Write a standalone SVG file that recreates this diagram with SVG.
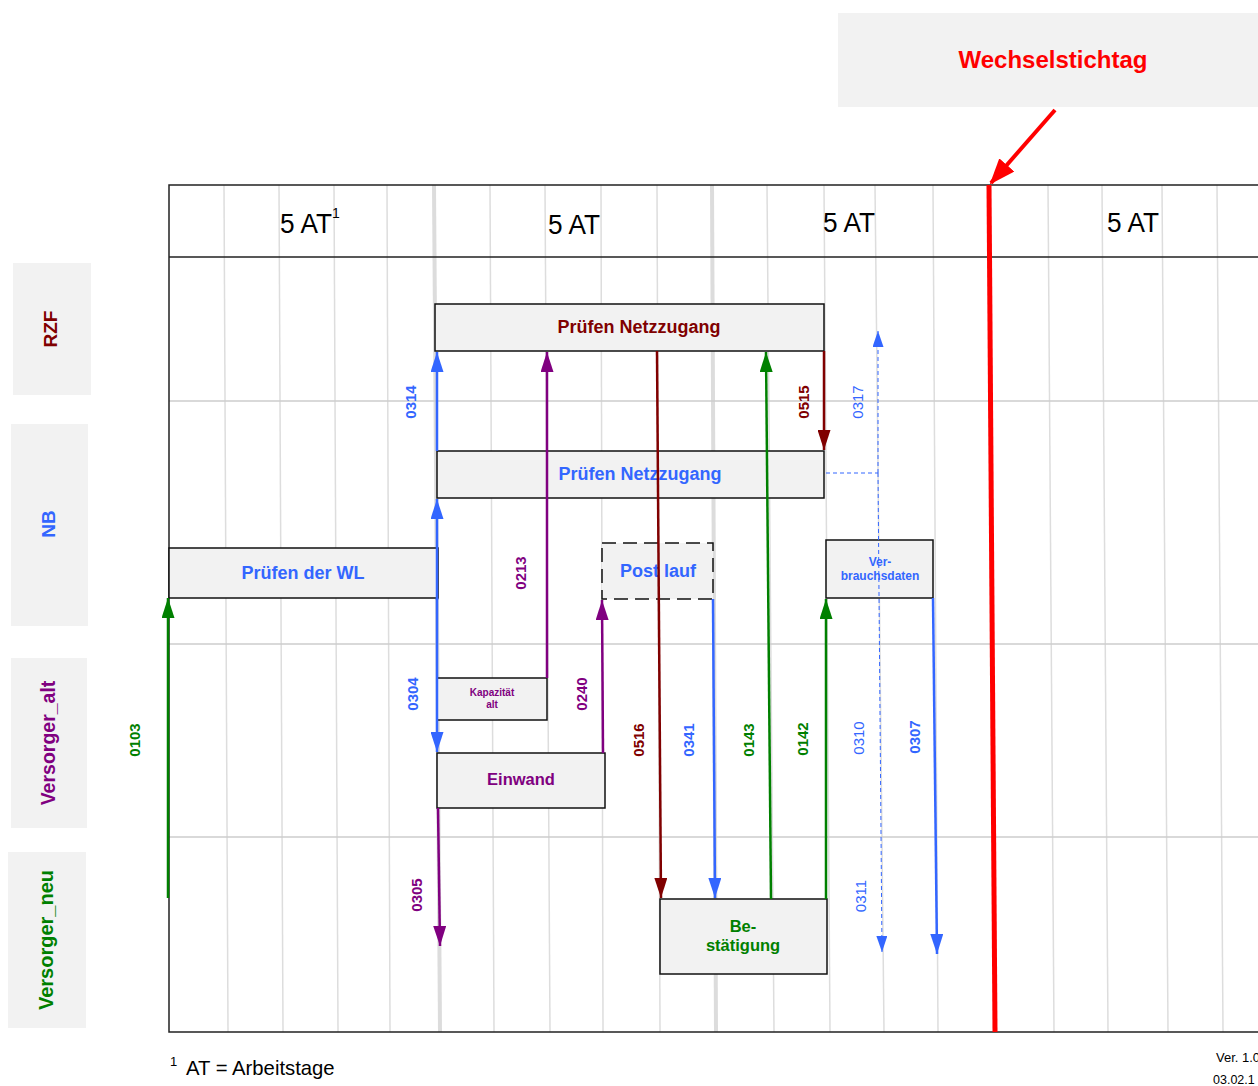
<svg xmlns="http://www.w3.org/2000/svg" width="1258" height="1086" viewBox="0 0 1258 1086">
<style>
text{font-family:"Liberation Sans",Arial,sans-serif}
.b{font-weight:bold}
.grid{stroke:#dddddd;stroke-width:1.5;fill:none}
.gridT{stroke:#dcdcdc;stroke-width:4;fill:none}
.lane{stroke:#cccccc;stroke-width:1.5}
.frame{stroke:#222;stroke-width:1.5;fill:none}
.lbl{fill:#f2f2f2;stroke:none}
.box{fill:#f2f2f2;stroke:#111;stroke-width:1.5}
.rd{fill:#800000}.bl{fill:#3366ff}.pu{fill:#800080}.gr{fill:#008000}
.c{stroke-width:2.5;fill:none}
.cr{stroke:#800000}.cb{stroke:#3366ff}.cp{stroke:#800080}.cg{stroke:#008000}
.dash{stroke:#3366ff;stroke-width:1;stroke-dasharray:4 3;fill:none}
.msg{font-size:15px;font-weight:bold}
.msgn{font-size:15px}
</style>
<defs>
<marker id="aR" viewBox="0 0 20 13" refX="20" refY="6.5" markerWidth="20" markerHeight="13" markerUnits="userSpaceOnUse" orient="auto"><path d="M0,0L20,6.5L0,13z" fill="#800000"/></marker>
<marker id="aB" viewBox="0 0 20 13" refX="20" refY="6.5" markerWidth="20" markerHeight="13" markerUnits="userSpaceOnUse" orient="auto"><path d="M0,0L20,6.5L0,13z" fill="#3366ff"/></marker>
<marker id="aP" viewBox="0 0 20 13" refX="20" refY="6.5" markerWidth="20" markerHeight="13" markerUnits="userSpaceOnUse" orient="auto"><path d="M0,0L20,6.5L0,13z" fill="#800080"/></marker>
<marker id="aG" viewBox="0 0 20 13" refX="20" refY="6.5" markerWidth="20" markerHeight="13" markerUnits="userSpaceOnUse" orient="auto"><path d="M0,0L20,6.5L0,13z" fill="#008000"/></marker>
<marker id="aBs" viewBox="0 0 16 11" refX="16" refY="5.5" markerWidth="16" markerHeight="11" markerUnits="userSpaceOnUse" orient="auto"><path d="M0,0L16,5.5L0,11z" fill="#3366ff"/></marker>
<marker id="aRed" viewBox="0 0 26 20" refX="24" refY="10" markerWidth="26" markerHeight="20" markerUnits="userSpaceOnUse" orient="auto"><path d="M0,0L26,10L0,20z" fill="#ff0000"/></marker>
</defs>

<g id="grid">
<line class="grid" x1="224" y1="185" x2="228" y2="1032"/>
<line class="grid" x1="279" y1="185" x2="283" y2="1032"/>
<line class="grid" x1="334" y1="185" x2="338" y2="1032"/>
<line class="grid" x1="387" y1="185" x2="390" y2="1032"/>
<line class="gridT" x1="434" y1="185" x2="440" y2="1032"/>
<line class="grid" x1="490" y1="185" x2="494" y2="1032"/>
<line class="grid" x1="545" y1="185" x2="550" y2="1032"/>
<line class="grid" x1="601" y1="185" x2="603" y2="1032"/>
<line class="grid" x1="657" y1="185" x2="660" y2="1032"/>
<line class="gridT" x1="712" y1="185" x2="716" y2="1032"/>
<line class="grid" x1="767" y1="185" x2="774" y2="1032"/>
<line class="grid" x1="824" y1="185" x2="830" y2="1032"/>
<line class="grid" x1="875" y1="185" x2="884" y2="1032"/>
<line class="grid" x1="933" y1="185" x2="938" y2="1032"/>
<line class="grid" x1="1048" y1="185" x2="1054" y2="1032"/>
<line class="grid" x1="1102" y1="185" x2="1108" y2="1032"/>
<line class="grid" x1="1162" y1="185" x2="1168" y2="1032"/>
<line class="grid" x1="1217" y1="185" x2="1223" y2="1032"/>
<line class="lane" x1="169" y1="401" x2="1258" y2="401"/>
<line class="lane" x1="169" y1="644" x2="1258" y2="644"/>
<line class="lane" x1="169" y1="837" x2="1258" y2="837"/>
<path class="frame" d="M1258,185H169V1032H1258M169,257H1258"/>
</g>

<g id="header">
<text x="280" y="233" font-size="27" textLength="52" lengthAdjust="spacingAndGlyphs">5 AT</text>
<text x="332" y="218" font-size="14">1</text>
<text x="548" y="234" font-size="27" textLength="52" lengthAdjust="spacingAndGlyphs">5 AT</text>
<text x="823" y="232" font-size="27" textLength="52" lengthAdjust="spacingAndGlyphs">5 AT</text>
<text x="1107" y="232" font-size="27" textLength="52" lengthAdjust="spacingAndGlyphs">5 AT</text>
</g>

<g id="lane-RZF">
<rect class="lbl" x="13" y="263" width="78" height="132"/>
<text class="b rd" transform="translate(57,329) rotate(-90)" text-anchor="middle" font-size="19">RZF</text>
</g>
<g id="lane-NB">
<rect class="lbl" x="11" y="424" width="77" height="202"/>
<text class="b bl" transform="translate(55,524) rotate(-90)" text-anchor="middle" font-size="19">NB</text>
</g>
<g id="lane-Versorger_alt">
<rect class="lbl" x="11" y="658" width="76" height="170"/>
<text class="b pu" transform="translate(55,743) rotate(-90)" text-anchor="middle" font-size="19.5">Versorger_alt</text>
</g>
<g id="lane-Versorger_neu">
<rect class="lbl" x="8" y="852" width="78" height="176"/>
<text class="b gr" transform="translate(53,940) rotate(-90)" text-anchor="middle" font-size="20">Versorger_neu</text>
</g>

<g id="wechselstichtag">
<rect class="lbl" x="838" y="13" width="420" height="94"/>
<text class="b" x="1053" y="68" text-anchor="middle" font-size="24" fill="#ff0000">Wechselstichtag</text>
</g>

<g id="rzf-pruefen">
<rect class="box" x="435" y="304" width="389" height="47"/>
<text class="b rd" x="639" y="333" text-anchor="middle" font-size="18">Prüfen Netzzugang</text>
</g>
<g id="nb-pruefen">
<rect class="box" x="437" y="451" width="387" height="47"/>
<text class="b bl" x="640" y="480" text-anchor="middle" font-size="18">Prüfen Netzzugang</text>
</g>
<g id="pruefen-wl">
<rect class="box" x="169" y="548" width="269" height="50"/>
<text class="b bl" x="303" y="579" text-anchor="middle" font-size="18">Prüfen der WL</text>
</g>
<g id="postlauf">
<rect class="box" x="602" y="543" width="111" height="56" stroke-dasharray="14 7"/>
<text class="b bl" x="658" y="577" text-anchor="middle" font-size="18">Post lauf</text>
</g>
<g id="verbrauchsdaten">
<rect class="box" x="826" y="540" width="107" height="58"/>
<text class="b bl" x="880" y="566" text-anchor="middle" font-size="12">Ver-</text>
<text class="b bl" x="880" y="580" text-anchor="middle" font-size="12">brauchsdaten</text>
</g>
<g id="kapazitaet">
<rect class="box" x="437" y="678" width="110" height="42"/>
<text class="b pu" x="492" y="696" text-anchor="middle" font-size="10">Kapazität</text>
<text class="b pu" x="492" y="708" text-anchor="middle" font-size="10">alt</text>
</g>
<g id="einwand">
<rect class="box" x="437" y="753" width="168" height="55"/>
<text class="b pu" x="521" y="785" text-anchor="middle" font-size="16.5">Einwand</text>
</g>
<g id="bestaetigung">
<rect class="box" x="660" y="899" width="167" height="75"/>
<text class="b gr" x="743" y="932" text-anchor="middle" font-size="16.5">Be-</text>
<text class="b gr" x="743" y="951" text-anchor="middle" font-size="16.5">stätigung</text>
</g>

<g id="connectors">
<line class="c cg" x1="168" y1="898" x2="168" y2="598" marker-end="url(#aG)"/>
<line class="c cb" x1="437" y1="451" x2="437" y2="352" marker-end="url(#aB)"/>
<line class="c cb" x1="437" y1="600" x2="437" y2="499" marker-end="url(#aB)"/>
<line class="c cb" x1="437" y1="598" x2="437" y2="752" marker-end="url(#aB)"/>
<line class="c cp" x1="438" y1="808" x2="440" y2="946" marker-end="url(#aP)"/>
<line class="c cp" x1="547" y1="678" x2="547" y2="352" marker-end="url(#aP)"/>
<line class="c cp" x1="603" y1="753" x2="602" y2="600" marker-end="url(#aP)"/>
<line class="c cr" x1="657" y1="351" x2="661" y2="898" marker-end="url(#aR)"/>
<line class="c cb" x1="713" y1="599" x2="715" y2="898" marker-end="url(#aB)"/>
<line class="c cg" x1="771" y1="899" x2="766" y2="352" marker-end="url(#aG)"/>
<line class="c cg" x1="826" y1="899" x2="826" y2="599" marker-end="url(#aG)"/>
<line class="c cr" x1="824" y1="351" x2="824" y2="450" marker-end="url(#aR)"/>
<line class="dash" x1="826" y1="473" x2="878" y2="473"/>
<line class="dash" x1="878" y1="473" x2="878" y2="331" marker-end="url(#aBs)"/>
<line class="dash" x1="878" y1="473" x2="882" y2="952" marker-end="url(#aBs)"/>
<line class="c cb" x1="933" y1="598" x2="937" y2="954" marker-end="url(#aB)"/>
<line stroke="#ff0000" stroke-width="5" x1="989" y1="185" x2="995" y2="1032"/>
<line stroke="#ff0000" stroke-width="4" x1="1055" y1="110" x2="991" y2="183" marker-end="url(#aRed)"/>
<text class="msg gr" transform="translate(140,740) rotate(-90)" text-anchor="middle">0103</text>
<text class="msg bl" transform="translate(416,402) rotate(-90)" text-anchor="middle">0314</text>
<text class="msg bl" transform="translate(418,694) rotate(-90)" text-anchor="middle">0304</text>
<text class="msg pu" transform="translate(422,895) rotate(-90)" text-anchor="middle">0305</text>
<text class="msg pu" transform="translate(526,573) rotate(-90)" text-anchor="middle">0213</text>
<text class="msg pu" transform="translate(587,694) rotate(-90)" text-anchor="middle">0240</text>
<text class="msg rd" transform="translate(644,740) rotate(-90)" text-anchor="middle">0516</text>
<text class="msg bl" transform="translate(694,740) rotate(-90)" text-anchor="middle">0341</text>
<text class="msg gr" transform="translate(754,740) rotate(-90)" text-anchor="middle">0143</text>
<text class="msg gr" transform="translate(808,739) rotate(-90)" text-anchor="middle">0142</text>
<text class="msg rd" transform="translate(809,402) rotate(-90)" text-anchor="middle">0515</text>
<text class="msgn bl" transform="translate(863,402) rotate(-90)" text-anchor="middle">0317</text>
<text class="msgn bl" transform="translate(864,738) rotate(-90)" text-anchor="middle">0310</text>
<text class="msgn bl" transform="translate(866,896) rotate(-90)" text-anchor="middle">0311</text>
<text class="msg bl" transform="translate(920,737) rotate(-90)" text-anchor="middle">0307</text>
</g>

<g id="footer">
<text x="170" y="1066" font-size="13">1</text>
<text x="186" y="1075" font-size="20.3">AT = Arbeitstage</text>
<text x="1216" y="1062" font-size="13">Ver. 1.0</text>
<text x="1213" y="1084" font-size="12.5">03.02.1</text>
</g>
</svg>
